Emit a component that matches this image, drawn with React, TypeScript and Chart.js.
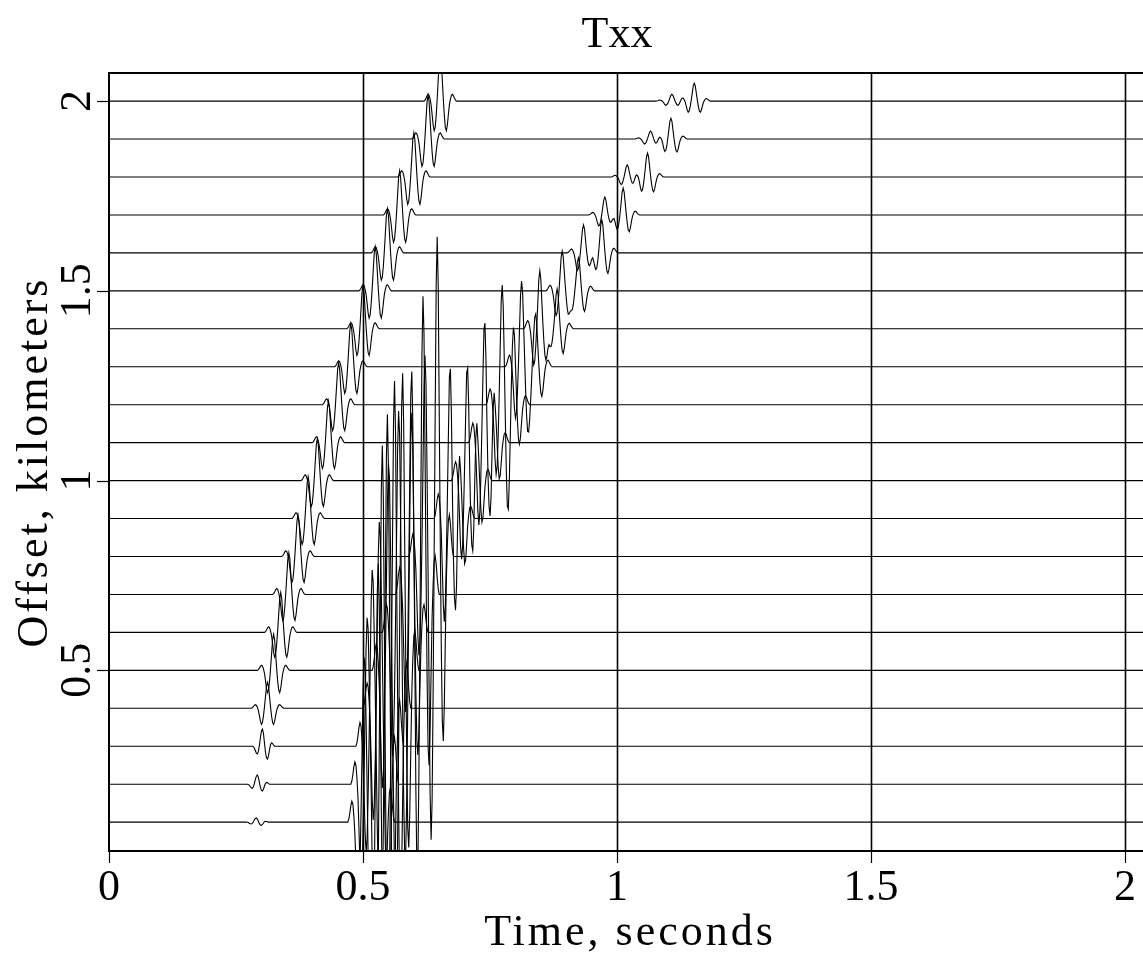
import React, { useEffect, useRef } from "react";
import { Chart, registerables } from "chart.js";

Chart.register(...registerables);

// ---------- data ----------
const OFFSETS = [0.1, 0.2, 0.3, 0.4, 0.5, 0.6, 0.7, 0.8, 0.9, 1.0, 1.1, 1.2, 1.3, 1.4, 1.5, 1.6, 1.7, 1.8, 1.9, 2.0];
const TIME_TICKS = [0, 0.5, 1, 1.5, 2];
const TIME_TICK_LABELS = ["0", "0.5", "1", "1.5", "2"];
const OFFSET_TICKS = [0.5, 1, 1.5, 2];
const OFFSET_TICK_LABELS = ["0.5", "1", "1.5", "2"];
const TIME_MIN = 0;
const TIME_MAX = 2.049;
const OFFSET_MIN = 0.024;
const OFFSET_MAX = 2.074;
const SAMPLE_STEP = 0.002;
const SAMPLE_COUNT = 1026;

// wavelet shapes, one value per sample (0.002 s)
const WAVELET_SYM = [0, 0.02, 0.06, 0.11, 0.14, 0.12, 0.04, -0.08, -0.28, -0.5, -0.62, -0.55, -0.3, 0.05, 0.45, 0.85, 1.0, 0.85, 0.45, 0.05, -0.3, -0.55, -0.62, -0.5, -0.28, -0.08, 0.04, 0.12, 0.14, 0.11, 0.06, 0.02, 0];
const WAVELET_SYM_CENTER = 16;
const WAVELET_NEAR = [0, -0.03, -0.1, -0.25, -0.4, -0.45, -0.3, 0.05, 0.5, 0.88, 1.0, 0.75, 0.2, -0.35, -0.68, -0.75, -0.55, -0.2, 0.1, 0.2, 0.15, 0.06, 0];
const WAVELET_NEAR_CENTER = 10;

// direct arrival (seconds, amplitude in km) per trace
const P_TIMES = [0.289, 0.291, 0.301, 0.311, 0.323, 0.337, 0.354, 0.372, 0.392, 0.411, 0.431, 0.451, 0.476, 0.5, 0.524, 0.547, 0.573, 0.6, 0.628, 0.652];
const P_AMPS = [0.011, 0.024, 0.045, 0.068, 0.095, 0.105, 0.11, 0.11, 0.11, 0.11, 0.11, 0.11, 0.113, 0.113, 0.116, 0.116, 0.116, 0.116, 0.116, 0.126];
const P_NEAR = [true, true, true, false, false, false, false, false, false, false, false, false, false, false, false, false, false, false, false, false];

// first later arrival
const B1_TIMES = [0.502, 0.508, 0.518, 0.531, 0.549, 0.571, 0.596, 0.622, 0.671, 0.705, 0.74, 0.774, 0.813, 0.848, 0.892, 0.933, 0.976, 1.02, 1.065, 1.108];
const B1_AMPS = [0.395, 0.421, 0.447, 0.474, 0.5, 0.526, 0.5, 0.42, 0.461, 0.355, 0.368, 0.295, 0.218, 0.153, 0.105, 0.074, 0.047, 0.032, 0.021, 0.018];

// second later arrival
const B2_TIMES = [0.53, 0.537, 0.547, 0.561, 0.577, 0.596, 0.618, 0.646, 0.687, 0.722, 0.756, 0.795, 0.839, 0.882, 0.923, 0.97, 1.012, 1.059, 1.106, 1.152];
const B2_AMPS = [0.658, 0.884, 0.866, 0.853, 0.753, 0.521, 0.726, 0.784, 0.237, 0.211, 0.189, 0.168, 0.126, 0.105, 0.087, 0.087, 0.071, 0.063, 0.055, 0.047];

const TITLE = "Txx";
const X_TITLE = "Time, seconds";
const Y_TITLE = "Offset, kilometers";

// ---------- build traces ----------
function addEvent(values: number[], time: number, amp: number, shape: number[], center: number) {
  const start = Math.round(time / SAMPLE_STEP) - center;
  for (let k = 0; k < shape.length; k++) {
    const i = start + k;
    if (i >= 0 && i < values.length) values[i] += amp * shape[k];
  }
}

function buildTrace(ti: number) {
  const off = OFFSETS[ti];
  const values: number[] = new Array(SAMPLE_COUNT).fill(off);
  if (P_NEAR[ti]) addEvent(values, P_TIMES[ti], P_AMPS[ti], WAVELET_NEAR, WAVELET_NEAR_CENTER);
  else addEvent(values, P_TIMES[ti], P_AMPS[ti], WAVELET_SYM, WAVELET_SYM_CENTER);
  addEvent(values, B1_TIMES[ti], B1_AMPS[ti], WAVELET_SYM, WAVELET_SYM_CENTER);
  addEvent(values, B2_TIMES[ti], B2_AMPS[ti], WAVELET_SYM, WAVELET_SYM_CENTER);
  return values.map((v, i) => ({ x: i * SAMPLE_STEP, y: v }));
}

const FONT = '"Liberation Serif", "DejaVu Serif", serif';

const decorPlugin = {
  id: "decor",
  beforeDatasetsDraw(chart: any) {
    const { ctx, chartArea, scales } = chart;
    ctx.save();
    ctx.strokeStyle = "#000";
    ctx.lineWidth = 1.6;
    for (const t of TIME_TICKS) {
      if (t <= TIME_MIN) continue;
      const x = Math.round(scales.x.getPixelForValue(t)) + 0.5;
      ctx.beginPath();
      ctx.moveTo(x, chartArea.top);
      ctx.lineTo(x, chartArea.bottom);
      ctx.stroke();
    }
    ctx.restore();
  },
  afterDraw(chart: any) {
    const { ctx, chartArea, scales } = chart;
    ctx.save();
    ctx.strokeStyle = "#000";
    ctx.fillStyle = "#000";
    ctx.lineWidth = 2;
    ctx.strokeRect(chartArea.left, chartArea.top, chartArea.right - chartArea.left + 10, chartArea.bottom - chartArea.top);
    ctx.lineWidth = 1.2;
    // x ticks
    for (const t of TIME_TICKS) {
      const x = Math.round(scales.x.getPixelForValue(t)) + 0.5;
      ctx.beginPath();
      ctx.moveTo(x, chartArea.bottom);
      ctx.lineTo(x, chartArea.bottom + 12);
      ctx.stroke();
    }
    // y ticks
    for (const v of OFFSET_TICKS) {
      const y = Math.round(scales.y.getPixelForValue(v)) + 0.5;
      ctx.beginPath();
      ctx.moveTo(chartArea.left - 12, y);
      ctx.lineTo(chartArea.left, y);
      ctx.stroke();
    }
    ctx.font = `44px ${FONT}`;
    ctx.textAlign = "center";
    ctx.textBaseline = "alphabetic";
    TIME_TICKS.forEach((t, i) => {
      ctx.fillText(TIME_TICK_LABELS[i], scales.x.getPixelForValue(t), chartArea.bottom + 49);
    });
    OFFSET_TICKS.forEach((v, i) => {
      ctx.save();
      ctx.translate(chartArea.left - 19, scales.y.getPixelForValue(v));
      ctx.rotate(-Math.PI / 2);
      ctx.fillText(OFFSET_TICK_LABELS[i], 0, 0);
      ctx.restore();
    });
    // titles
    ctx.fillText(TITLE, 617, 47);
    (ctx as any).letterSpacing = "3px";
    ctx.fillText(X_TITLE, 630, 945);
    ctx.save();
    ctx.translate(47, (chartArea.top + chartArea.bottom) / 2);
    ctx.rotate(-Math.PI / 2);
    ctx.fillText(Y_TITLE, 0, 0);
    ctx.restore();
    ctx.restore();
  },
};

export default function App() {
  const canvasRef = useRef<HTMLCanvasElement | null>(null);

  useEffect(() => {
    if (!canvasRef.current) return;
    const datasets = OFFSETS.map((_, ti) => ({
      data: buildTrace(ti),
      borderColor: "#000",
      borderWidth: 1.1,
      pointRadius: 0,
      fill: false,
      tension: 0,
    }));
    const chart = new Chart(canvasRef.current, {
      type: "line",
      data: { datasets },
      options: {
        animation: false,
        responsive: false,
        parsing: false,
        events: [],
        layout: { padding: { left: 109, top: 73, right: 0, bottom: 102 } },
        plugins: { legend: { display: false }, tooltip: { enabled: false }, title: { display: false } },
        scales: {
          x: { type: "linear", min: TIME_MIN, max: TIME_MAX, display: false },
          y: { type: "linear", min: OFFSET_MIN, max: OFFSET_MAX, display: false },
        },
      } as any,
      plugins: [decorPlugin],
    });
    return () => chart.destroy();
  }, []);

  return (
    <div style={{ position: "fixed", left: 0, top: 0, width: 1143, height: 953, overflow: "hidden", background: "#fff" }}>
      <canvas ref={canvasRef} width={1150} height={953} style={{ display: "block", width: 1150, height: 953 }} />
    </div>
  );
}
